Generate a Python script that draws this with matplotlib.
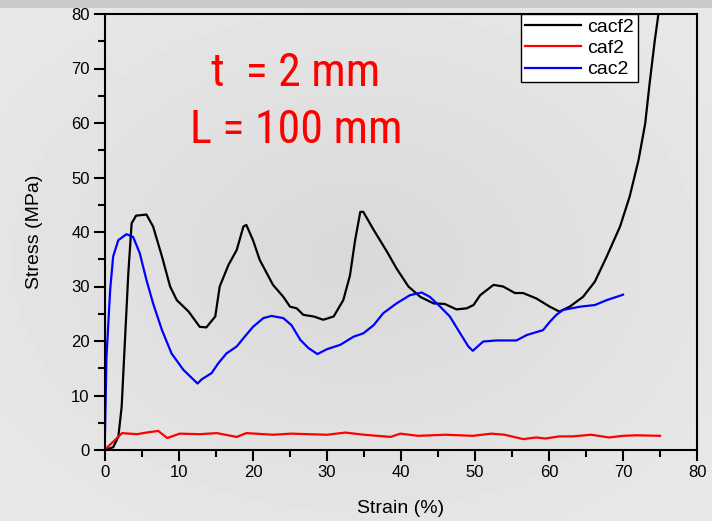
import numpy as np
import matplotlib
matplotlib.use("Agg")
import matplotlib.pyplot as plt
from matplotlib.ticker import MultipleLocator

# cacf2 (black)
cacf2_x = [0, 1.1, 1.8, 2.25, 2.7, 3.15, 3.6, 4.2, 5.6, 6.5, 7.7, 8.8, 9.7, 11.3, 12.8, 13.7,
           14.9, 15.5, 16.7, 17.8, 18.7, 19.1, 20.0, 20.9, 22.7, 24.1, 25.0, 25.9, 26.8, 28.2,
           29.5, 30.9, 32.2, 33.1, 33.8, 34.5, 34.9, 36.3, 38.1, 39.4, 41.0, 42.6, 44.4, 45.9,
           47.5, 48.9, 49.8, 50.7, 52.5, 53.8, 55.4, 56.5, 58.3, 60.1, 61.4, 62.8, 64.6, 66.2,
           67.8, 69.6, 70.9, 72.1, 73.0, 73.6, 74.3, 74.8]
cacf2_y = [0, 0.5, 2.4, 7.9, 20.2, 32.4, 41.6, 43.0, 43.2, 41.0, 35.5, 30.0, 27.5, 25.4, 22.6, 22.5,
           24.5, 30.0, 34.0, 36.7, 41.0, 41.3, 38.5, 34.9, 30.3, 28.1, 26.3, 26.0, 24.8, 24.5,
           23.9, 24.5, 27.5, 32.0, 38.5, 43.7, 43.7, 40.4, 36.4, 33.3, 30.0, 28.1, 26.9, 26.8,
           25.8, 26.0, 26.6, 28.4, 30.3, 30.0, 28.8, 28.8, 27.8, 26.3, 25.4, 26.3, 28.1, 30.9,
           35.5, 41.0, 46.5, 53.2, 59.9, 67.3, 75.2, 80.1]

# caf2 (red)
caf2_x = [0, 1.1, 2.3, 4.3, 5.6, 7.2, 8.4, 10.1, 12.8, 15.1, 17.8, 19.1, 22.7, 25.1, 30.0,
          32.5, 35.0, 38.6, 39.9, 42.3, 46.0, 49.7, 52.2, 54.0, 56.5, 58.3, 59.5, 61.4, 63.2,
          65.7, 68.1, 70.0, 71.8, 75.0]
caf2_y = [0.1, 1.5, 3.1, 2.9, 3.2, 3.5, 2.2, 3.0, 2.9, 3.1, 2.4, 3.1, 2.8, 3.0, 2.8,
          3.2, 2.8, 2.4, 3.0, 2.6, 2.8, 2.6, 3.0, 2.8, 2.0, 2.3, 2.1, 2.5, 2.5,
          2.8, 2.3, 2.6, 2.7, 2.6]

# cac2 (blue)
cac2_x = [0, 0.2, 0.7, 1.1, 1.8, 2.9, 3.8, 4.7, 5.6, 6.5, 7.7, 9.0, 10.6, 12.5, 13.1, 14.4,
          15.3, 16.4, 17.8, 18.7, 20.0, 21.4, 22.5, 24.1, 25.2, 26.4, 27.5, 28.7, 30.0, 31.8,
          33.6, 34.9, 36.3, 37.6, 39.4, 41.2, 42.8, 43.9, 45.3, 46.6, 48.0, 49.1, 49.7, 51.1,
          52.9, 55.6, 57.0, 59.2, 60.1, 61.0, 61.9, 64.2, 66.2, 67.8, 69.8, 70.0]
cac2_y = [3.1, 17.1, 29.4, 35.5, 38.5, 39.6, 39.1, 36.1, 31.2, 26.9, 22.0, 17.7, 14.7, 12.2, 13.0, 14.1,
          15.9, 17.7, 19.0, 20.5, 22.6, 24.2, 24.6, 24.2, 22.9, 20.2, 18.7, 17.6, 18.5, 19.3,
          20.8, 21.4, 22.9, 25.1, 26.9, 28.4, 28.9, 28.1, 26.3, 24.5, 21.4, 19.0, 18.2, 19.9,
          20.1, 20.1, 21.1, 22.0, 23.5, 24.8, 25.7, 26.3, 26.6, 27.5, 28.4, 28.5]

plt.rcParams['font.family'] = ['Liberation Sans', 'DejaVu Sans']

fig = plt.figure(figsize=(7.12, 5.21), dpi=100)

# grey radial background with darker strip at top
bg = fig.add_axes([0, 0, 1, 1], zorder=-10)
yy, xx = np.mgrid[0:521, 0:712]
r = np.sqrt(((xx - 356) / 356.0) ** 2 + ((yy - 260) / 260.0) ** 2)
shade = 0.85 + 0.06 * np.clip(r / 1.3, 0, 1)
shade[:8, :] = 0.79
bg.imshow(shade, cmap='gray', vmin=0, vmax=1, aspect='auto', interpolation='bilinear')
bg.axis('off')

ax = fig.add_axes([105 / 712, 1 - 450 / 521, 592 / 712, 436 / 521])
ax.patch.set_alpha(0)

ax.plot(cacf2_x, cacf2_y, color='black', lw=1.6, label='cacf2')
ax.plot(caf2_x, caf2_y, color='red', lw=1.6, label='caf2')
ax.plot(cac2_x, cac2_y, color='blue', lw=1.6, label='cac2')

ax.set_xlim(0, 80)
ax.set_ylim(0, 80)
ax.xaxis.set_major_locator(MultipleLocator(10))
ax.xaxis.set_minor_locator(MultipleLocator(5))
ax.yaxis.set_major_locator(MultipleLocator(10))
ax.yaxis.set_minor_locator(MultipleLocator(5))
ax.tick_params(which='major', direction='out', length=8, width=1.5, labelsize=12, pad=3)
ax.tick_params(which='minor', direction='out', length=5, width=1.5)
for s in ax.spines.values():
    s.set_linewidth(1.5)

ax.set_xlabel('Strain (%)', fontsize=14, labelpad=14)
ax.set_ylabel('Stress (MPa)', fontsize=14, labelpad=20)

narrow = ['Roboto Condensed', 'Liberation Sans Narrow', 'Noto Sans Condensed', 'Liberation Sans']
ax.text(25.8, 69.2, 't  = 2 mm', color='red', fontsize=33, ha='center', va='center',
        family=narrow, stretch='condensed')
ax.text(25.8, 58.8, 'L = 100 mm', color='red', fontsize=33, ha='center', va='center',
        family=narrow, stretch='condensed')

leg = ax.legend(loc='upper right', bbox_to_anchor=(0.9, 1.0), borderaxespad=0, fontsize=14,
                handlelength=2.9, labelspacing=0.2, borderpad=0.2, handletextpad=0.3,
                fancybox=False, framealpha=1)
leg.get_frame().set_edgecolor('black')
leg.get_frame().set_facecolor('white')
leg.get_frame().set_linewidth(1.0)

fig.savefig('out.png', dpi=100)
